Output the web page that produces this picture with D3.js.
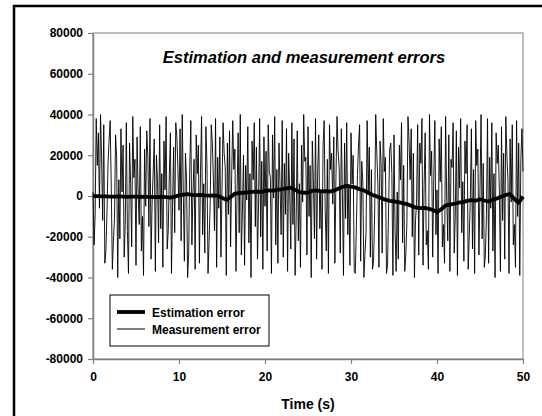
<!DOCTYPE html>
<html>
<head>
<meta charset="utf-8">
<script src="https://cdn.jsdelivr.net/npm/d3@7"></script>
<style>
  body { margin: 0; background: #fff; overflow: hidden; }
  text { font-family: Arial, "Liberation Sans", sans-serif; }
</style>
</head>
<body>
<script>
var width = 542, height = 416;

// sampling step of both series (s)
var dt = 0.125, dtEst = 0.5;

var measurementError = [
  2000, -24000, -9000, 38000, 15000, 31000, -6000, 40000, 19000, -12000, 35000, -33000, -27000, -8000, 16000, 28000,
  37000, 4000, -36000, -22000, -11000, 30000, 19000, -40000, 8000, -21000, 33000, 2000, 25000, -30000, -14000, 36000,
  -17000, -38000, 26000, 6000, -25000, 39000, 9000, 18000, -34000, 29000, 1000, -14000, 34000, -27000, -10000, -39000,
  23000, -5000, 32000, 20000, -15000, 38000, -31000, -3000, 12000, 28000, -37000, 20000, 7000, -23000, 35000, -16000,
  11000, -35000, 27000, 3000, 39000, -26000, -17000, 10000, 31000, -38000, -5000, 24000, -18000, 36000, 29000, 13000,
  -7000, 33000, -22000, 40000, 1000, -32000, 21000, 9000, -40000, -28000, 14000, 37000, -24000, 2000, 18000, -36000,
  30000, 11000, 25000, -33000, 12000, 39000, -19000, 6000, -28000, 34000, 16000, -38000, -22000, -4000, 35000, 26000,
  8000, -17000, 38000, -35000, 19000, -6000, 29000, -30000, 3000, 36000, 21000, 14000, -39000, 26000, -9000, 32000,
  -25000, 10000, 37000, 13000, 23000, -37000, 1000, 31000, -18000, 40000, -29000, -7000, 20000, -34000, 15000, -2000,
  34000, -23000, 11000, -40000, 27000, 8000, 36000, -15000, 24000, -31000, -4000, 38000, -20000, 17000, -36000, 29000,
  -5000, 22000, -27000, 35000, 12000, 9000, -38000, 30000, -1000, 39000, -24000, 13000, -33000, 26000, 5000, -19000,
  37000, -30000, 16000, -9000, 33000, -37000, 21000, 2000, -26000, 36000, -14000, 28000, -39000, -11000, 32000, -22000,
  6000, -35000, 25000, -3000, 40000, 17000, 19000, -29000, 34000, -10000, 15000, -40000, 27000, 8000, -21000, 38000,
  -31000, 12000, 30000, -16000, 3000, -36000, 24000, 37000, -7000, -27000, 18000, -38000, 35000, 13000, 21000, -4000,
  29000, -33000, 9000, 39000, 22000, 14000, -28000, 33000, 1000, -39000, 26000, -11000, 36000, -19000, 4000, -34000,
  31000, 6000, 20000, -37000, -38000, -15000, 10000, 25000, 35000, -32000, 17000, 7000, -40000, -28000, -18000, 37000,
  2000, 24000, -30000, 13000, -36000, -32000, -9000, 40000, 21000, 6000, -35000, 27000, 16000, -28000, 38000, 12000,
  19000, -38000, -34000, -5000, 23000, 26000, 11000, -39000, 30000, -17000, -37000, 2000, -31000, 25000, 8000, 36000,
  -23000, 15000, -37000, -29000, -13000, 39000, 27000, 8000, 33000, -20000, 21000, -40000, -12000, -3000, 35000, -29000,
  26000, 16000, 38000, -34000, 5000, 31000, -24000, -17000, -36000, 40000, 10000, 22000, -30000, 9000, 37000, -19000,
  3000, -38000, 28000, 7000, 34000, -25000, -14000, -33000, 39000, 0, -22000, 30000, -37000, 18000, 14000, 36000,
  -28000, -10000, 32000, -39000, 24000, 4000, 38000, -18000, 7000, -32000, 27000, 11000, 35000, -36000, -20000, -1000,
  33000, -26000, 13000, -38000, 37000, 15000, 23000, -29000, 4000, 40000, -21000, 16000, -35000, -29000, -9000, 38000,
  -33000, 19000, -6000, 36000, -27000, 11000, -40000, 31000, 16000, 25000, 2000, -37000, 34000, -12000, 21000, -31000,
  39000, 20000, 8000, -38000, 28000, -3000, 35000, -24000, -14000, -35000, 37000, -10000, 26000, -39000, 18000, 33000,
  12000
];

var estimationError = [
  0, -100, -200, -200, -300, -300, -200, -300, -400, -300, -300, -400, -300, -400, -500, -400,
  -500, -600, -800, -300, 300, 700, 900, 600, 400, 500, 300, 200, 300, 100, -800, -1900,
  -600, 1200, 1400, 1600, 1800, 2000, 2200, 2000, 2500, 2800, 2600, 3100, 3300, 3800, 4100, 3000,
  1900, 1600, 1700, 2600, 2800, 2300, 2400, 2100, 2600, 3500, 4400, 5000, 4600, 4200, 3300, 2800,
  1600, 500, -200, -1000, -1800, -2400, -2600, -3000, -3500, -4000, -4800, -5600, -6000, -5800, -6200, -6900,
  -7900, -6500, -4600, -4200, -3800, -3300, -3000, -2400, -2000, -2300, -1600, -2200, -2700, -1800, -1200, -300,
  500, 900, -1500, -3300, -300
];

var yTicks = [-80000, -60000, -40000, -20000, 0, 20000, 40000, 60000, 80000];
var xTicks = [0, 10, 20, 30, 40, 50];

var margin = {left: 93, right: 19, top: 33, bottom: 57};
var plotW = width - margin.left - margin.right,
    plotH = height - margin.top - margin.bottom;

var svg = d3.select("body").append("svg")
    .attr("width", width)
    .attr("height", height);

// outer frame, cut at right and bottom
svg.append("rect")
    .attr("x", 14).attr("y", 6)
    .attr("width", 700).attr("height", 600)
    .attr("fill", "none")
    .attr("stroke", "#000")
    .attr("stroke-width", 2.5);

var g = svg.append("g")
    .attr("transform", "translate(" + margin.left + "," + margin.top + ")");

var x = d3.scaleLinear().domain([0, 50]).range([0, plotW]);
var y = d3.scaleLinear().domain([-80000, 80000]).range([plotH, 0]);

g.append("rect")
    .attr("width", plotW).attr("height", plotH)
    .attr("fill", "none")
    .attr("stroke", "#808080")
    .attr("stroke-width", 1);

var yAxis = g.append("g")
    .call(d3.axisLeft(y).tickValues(yTicks).tickFormat(function(d) { return String(d); })
      .tickSize(5).tickSizeOuter(0).tickPadding(5));

var xAxis = g.append("g")
    .attr("transform", "translate(0," + plotH + ")")
    .call(d3.axisBottom(x).tickValues(xTicks).tickSize(5).tickSizeOuter(0).tickPadding(8));

[xAxis, yAxis].forEach(function(a) {
  a.select(".domain").attr("stroke", "#808080").attr("stroke-width", 1.5);
  a.selectAll(".tick line").attr("stroke", "#808080").attr("stroke-width", 1.2);
  a.selectAll(".tick text")
      .attr("fill", "#000")
      .style("font-size", "12px")
      .style("font-weight", "bold")
      .style("font-family", "Arial, 'Liberation Sans', sans-serif");
});

var line = d3.line()
    .x(function(d) { return x(d[0]); })
    .y(function(d) { return y(d[1]); });

g.append("path")
    .datum(measurementError.map(function(v, i) { return [i * dt, v]; }))
    .attr("d", line)
    .attr("fill", "none")
    .attr("stroke", "#000")
    .attr("stroke-width", 0.9);

g.append("path")
    .datum(estimationError.map(function(v, i) { return [i * dtEst, v]; }))
    .attr("d", line)
    .attr("fill", "none")
    .attr("stroke", "#000")
    .attr("stroke-width", 3.8)
    .attr("stroke-linejoin", "round");

// title
g.append("text")
    .attr("x", 211).attr("y", 30)
    .attr("text-anchor", "middle")
    .style("font-size", "16.5px")
    .style("font-weight", "bold")
    .style("font-style", "italic")
    .text("Estimation and measurement errors");

// x label
svg.append("text")
    .attr("x", 308).attr("y", 409)
    .attr("text-anchor", "middle")
    .style("font-size", "14px")
    .style("font-weight", "bold")
    .text("Time (s)");

// legend
var leg = svg.append("g").attr("transform", "translate(110,295)");
leg.append("rect")
    .attr("width", 159).attr("height", 51)
    .attr("fill", "#fff")
    .attr("stroke", "#000")
    .attr("stroke-width", 1);

var legendItems = [
  {label: "Estimation error", w: 3.8},
  {label: "Measurement error", w: 1}
];

legendItems.forEach(function(d, i) {
  var yy = 17 + i * 17;
  leg.append("line")
      .attr("x1", 7).attr("x2", 35)
      .attr("y1", yy).attr("y2", yy)
      .attr("stroke", "#000")
      .attr("stroke-width", d.w);
  leg.append("text")
      .attr("x", 42).attr("y", yy + 4.5)
      .style("font-size", "12px")
      .style("font-weight", "bold")
      .text(d.label);
});
</script>
</body>
</html>
